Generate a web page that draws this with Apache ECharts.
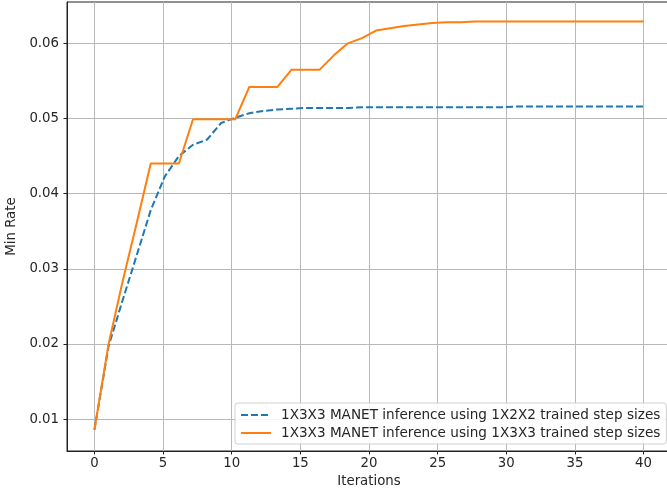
<!DOCTYPE html>
<html>
<head>
<meta charset="utf-8">
<script src="https://cdn.jsdelivr.net/npm/echarts@6/dist/echarts.min.js"></script>
<style>html,body{margin:0;padding:0;background:#fff}#c{width:667px;height:493px}</style>
</head>
<body>
<div id="c"></div>
<script>
const iterations = [0, 1.03, 2.05, 3.08, 4.10, 5.13, 6.15, 7.18, 8.21, 9.23, 10.26, 11.28, 12.31, 13.33, 14.36, 15.38, 16.41, 17.44, 18.46, 19.49, 20.51, 21.54, 22.56, 23.59, 24.62, 25.64, 26.67, 27.69, 28.72, 29.74, 30.77, 31.79, 32.82, 33.85, 34.87, 35.90, 36.92, 37.95, 38.97, 40];
const rate1x2x2 = [0.0086, 0.0197, 0.0258, 0.0318, 0.0378, 0.0423, 0.0450, 0.0465, 0.0472, 0.0494, 0.0501, 0.0507, 0.0510, 0.0512, 0.0513, 0.0514, 0.0514, 0.0514, 0.0514, 0.0515, 0.0515, 0.0515, 0.0515, 0.0515, 0.0515, 0.0515, 0.0515, 0.0515, 0.0515, 0.0515, 0.0516, 0.0516, 0.0516, 0.0516, 0.0516, 0.0516, 0.0516, 0.0516, 0.0516, 0.0516];
const rate1x3x3 = [0.0086, 0.0200, 0.0283, 0.0361, 0.0440, 0.0440, 0.0440, 0.0499, 0.0499, 0.0499, 0.0499, 0.0542, 0.0542, 0.0542, 0.0565, 0.0565, 0.0565, 0.0584, 0.0600, 0.0607, 0.0617, 0.0620, 0.0623, 0.0625, 0.0627, 0.0628, 0.0628, 0.0629, 0.0629, 0.0629, 0.0629, 0.0629, 0.0629, 0.0629, 0.0629, 0.0629, 0.0629, 0.0629, 0.0629, 0.0629];
const seriesNames = ['1X3X3 MANET inference using 1X2X2 trained step sizes', '1X3X3 MANET inference using 1X3X3 trained step sizes'];
const xTicks = [0, 5, 10, 15, 20, 25, 30, 35, 40];
const yTicks = [0.01, 0.02, 0.03, 0.04, 0.05, 0.06];

const FONT = 'DejaVu Sans';
const FS = 13.3;
const TXT = '#262626';
const pairs = ys => iterations.map((x, i) => [x, ys[i]]);

const chart = echarts.init(document.getElementById('c'), null, {renderer: 'canvas'});
chart.setOption({
  animation: false,
  backgroundColor: '#fff',
  grid: {left: 67, top: 2, width: 604, height: 449, show: true, borderColor: '#222', borderWidth: 1,
         containLabel: false, outerBoundsMode: 'none'},
  legend: {
    orient: 'vertical', left: 235, top: 403,
    padding: [5, 6, 4, 5], itemGap: 4, itemWidth: 30, itemHeight: 14,
    backgroundColor: 'rgba(255,255,255,0.85)', borderColor: '#d0d0d0', borderWidth: 1, borderRadius: 3,
    itemStyle: {opacity: 0},
    textStyle: {fontFamily: FONT, fontSize: 13.6, color: TXT, padding: [0, 0, 0, 5]},
    data: seriesNames
  },
  xAxis: {
    type: 'value', min: -2, max: 42, minInterval: 5, maxInterval: 5,
    name: 'Iterations', nameLocation: 'middle', nameGap: 23,
    nameTextStyle: {fontFamily: FONT, fontSize: FS, color: TXT},
    axisLine: {show: true, onZero: false, lineStyle: {color: '#222', width: 1}},
    axisTick: {show: true, length: 3.5, lineStyle: {color: '#222'}, customValues: xTicks},
    axisLabel: {fontFamily: FONT, fontSize: FS, color: TXT, margin: 6, customValues: xTicks,
      formatter: v => String(Math.round(v))},
    splitLine: {show: true, lineStyle: {color: '#b8b8b8', width: 1}}
  },
  yAxis: {
    type: 'value', min: 0.00575, max: 0.0655, minInterval: 0.01, maxInterval: 0.01,
    name: 'Min Rate', nameLocation: 'middle', nameGap: 46,
    nameTextStyle: {fontFamily: FONT, fontSize: FS, color: TXT},
    axisLine: {show: true, onZero: false, lineStyle: {color: '#222', width: 1}},
    axisTick: {show: true, length: 3.5, lineStyle: {color: '#222'}, customValues: yTicks},
    axisLabel: {fontFamily: FONT, fontSize: FS, color: TXT, margin: 8, customValues: yTicks,
      formatter: v => v.toFixed(2)},
    splitLine: {show: true, lineStyle: {color: '#b8b8b8', width: 1}}
  },
  series: [
    {name: seriesNames[0], type: 'line', data: pairs(rate1x2x2), showSymbol: false, symbol: 'none',
     lineStyle: {color: '#1f77b4', width: 2, type: [7, 3]}, itemStyle: {color: '#1f77b4'}},
    {name: seriesNames[1], type: 'line', data: pairs(rate1x3x3), showSymbol: false, symbol: 'none',
     lineStyle: {color: '#ff7f0e', width: 2}, itemStyle: {color: '#ff7f0e'}}
  ]
});
</script>
</body>
</html>
